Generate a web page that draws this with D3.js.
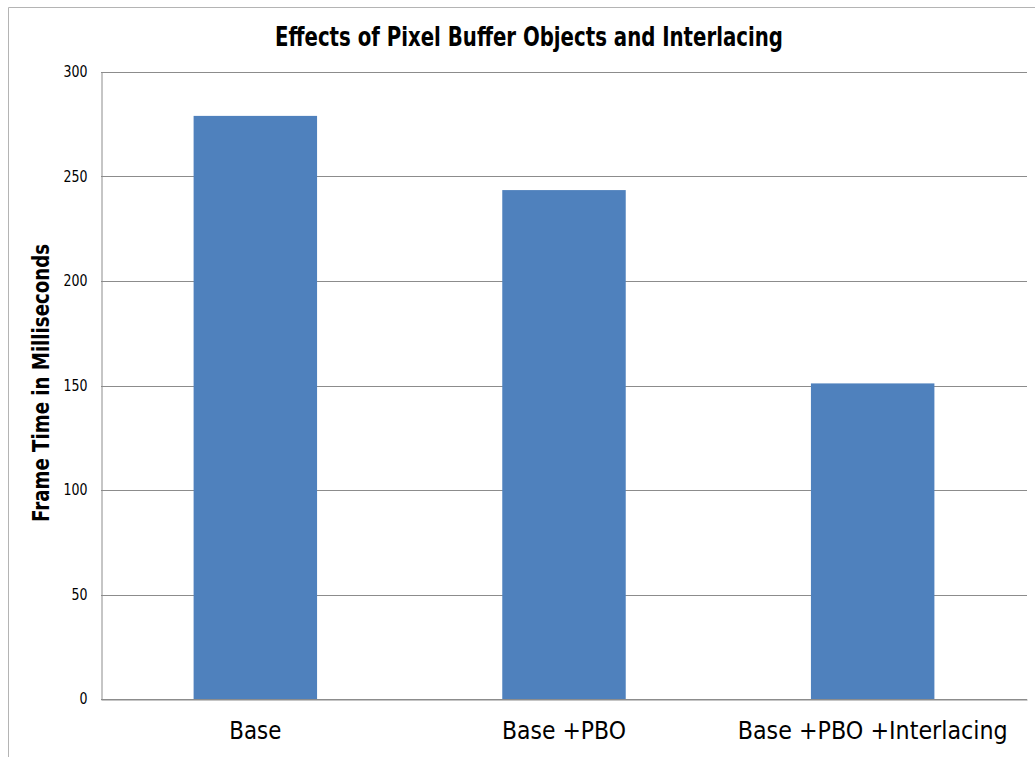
<!DOCTYPE html>
<html>
<head>
<meta charset="utf-8">
<script src="https://cdn.jsdelivr.net/npm/d3@7"></script>
<style>
  html, body { margin: 0; padding: 0; background: #fff; }
  svg { display: block; }
</style>
</head>
<body>
<svg id="chart" width="1035" height="757"></svg>
<script>
// Frame time per rendering configuration
const categories = ["Base", "Base +PBO", "Base +PBO +Interlacing"];
const frameTimes = [279, 243.5, 151];
const yTicks = [0, 50, 100, 150, 200, 250, 300];

const svg = d3.select("#chart");
const W = 1035, H = 757;
const plot = { left: 101, right: 1027, top: 72, bottom: 699 };
const barColor = "#4f81bd";
const gridColor = "#8c8c8c";

// chart frame
svg.append("path")
  .attr("d", `M8.5,${H} V7.5 H${W}`)
  .attr("fill", "none")
  .attr("stroke", "#b4b4b4")
  .attr("stroke-width", 1);

const x = d3.scaleBand()
  .domain(categories)
  .range([plot.left, plot.right])
  .paddingInner(0.6)
  .paddingOuter(0.3);

const y = d3.scaleLinear()
  .domain([0, 300])
  .range([plot.bottom, plot.top]);

// horizontal gridlines
svg.append("g")
  .selectAll("line")
  .data(yTicks)
  .join("line")
  .attr("x1", plot.left)
  .attr("x2", plot.right)
  .attr("y1", d => Math.round(y(d)) + 0.5)
  .attr("y2", d => Math.round(y(d)) + 0.5)
  .attr("stroke", gridColor)
  .attr("stroke-width", 1);

// bars
svg.append("g")
  .selectAll("rect")
  .data(frameTimes)
  .join("rect")
  .attr("x", (d, i) => x(categories[i]))
  .attr("width", x.bandwidth())
  .attr("y", d => y(d))
  .attr("height", d => y(0) - y(d))
  .attr("fill", barColor);

// y axis
const yAxis = svg.append("g")
  .attr("transform", `translate(${plot.left + 0.5},0)`)
  .call(d3.axisLeft(y).tickValues(yTicks).tickSize(0).tickPadding(14));
yAxis.select(".domain").attr("stroke", gridColor);
yAxis.selectAll("text")
  .attr("font-family", "DejaVu Sans, sans-serif")
  .attr("font-size", 15)
  .attr("fill", "#000")
  .attr("textLength", d => String(d).length * 8)
  .attr("lengthAdjust", "spacingAndGlyphs");

// x axis
const xAxis = svg.append("g")
  .attr("transform", `translate(0,${plot.bottom + 0.5})`)
  .call(d3.axisBottom(x).tickSize(0).tickPadding(22));
xAxis.select(".domain").attr("stroke", gridColor);
xAxis.selectAll("text")
  .attr("font-family", "DejaVu Sans, sans-serif")
  .attr("font-size", 24)
  .attr("fill", "#000")
  .attr("textLength", d => ({ "Base": 52, "Base +PBO": 124, "Base +PBO +Interlacing": 270 })[d])
  .attr("lengthAdjust", "spacingAndGlyphs");

// title
svg.append("text")
  .attr("x", 529)
  .attr("y", 46)
  .attr("text-anchor", "middle")
  .attr("font-family", "DejaVu Sans, sans-serif")
  .attr("font-weight", "bold")
  .attr("font-size", 27)
  .attr("textLength", 508)
  .attr("lengthAdjust", "spacingAndGlyphs")
  .text("Effects of Pixel Buffer Objects and Interlacing");

// y axis title
svg.append("text")
  .attr("transform", `translate(49,383) rotate(-90)`)
  .attr("text-anchor", "middle")
  .attr("font-family", "DejaVu Sans, sans-serif")
  .attr("font-weight", "bold")
  .attr("font-size", 23)
  .attr("textLength", 278)
  .attr("lengthAdjust", "spacingAndGlyphs")
  .text("Frame Time in Milliseconds");
</script>
</body>
</html>
